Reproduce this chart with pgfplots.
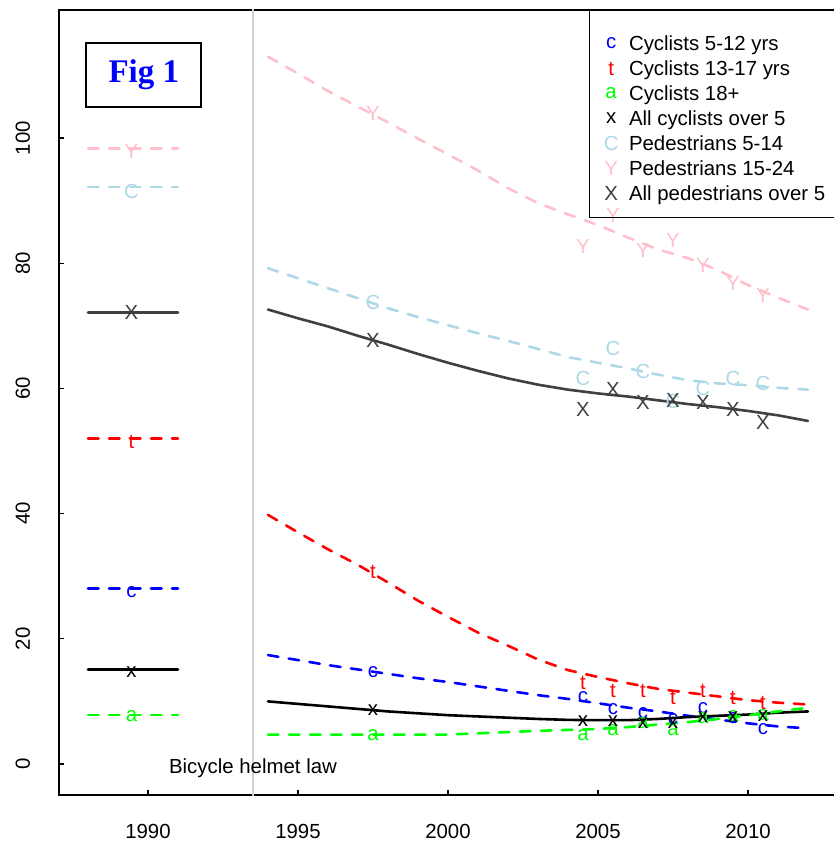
\documentclass[border=0pt]{standalone}
\usepackage{fontspec}
\setmainfont{Liberation Sans}
\newfontfamily\serifb{Liberation Serif}
\usepackage{pgfplots}
\pgfplotsset{compat=1.18}
\definecolor{cblue}{RGB}{0,0,255}
\definecolor{cred}{RGB}{255,0,0}
\definecolor{cgreen}{RGB}{0,255,0}
\definecolor{cpink}{RGB}{255,192,203}
\definecolor{clblue}{RGB}{173,216,230}
\definecolor{cdgray}{RGB}{64,64,64}
\definecolor{vgray}{RGB}{211,211,211}
\newcommand\fs{\fontsize{10.2}{12}\selectfont}
\newcommand\ls{\rule[-3pt]{0pt}{12.5pt}}
\begin{document}
\begin{tikzpicture}
\begin{axis}[
  at={(0,0)}, anchor=south west,
  scale only axis, width=388.8pt, height=392.5pt,
  xmin=1987.04, xmax=2012.96, ymin=-4.95, ymax=120.45,
  xtick={1990,1995,2000,2005,2010},
  ytick={0,20,40,60,80,100},
  xtick pos=left, ytick pos=left,
  tick align=inside, major tick length=2.5pt,
  tick style={black, line width=0.6pt},
  axis line style={line width=0.75pt},
  /pgf/number format/1000 sep={},
  /pgf/number format/assume math mode=true,
  tick label style={font=\fs},
  xticklabel style={anchor=base, yshift=-21.8pt},
  yticklabel style={xshift=-14.6pt, rotate=90, anchor=base},
  text mark as node=true,
  text mark style={font=\fs, inner sep=0pt, anchor=center},
  dl/.style={line width=1.3pt, dash pattern=on 5.25pt off 5.25pt, line cap=round, line join=round, forget plot},
  sl/.style={line width=1.3pt, line cap=round, line join=round, forget plot},
  mk/.style={only marks, mark=text, text mark={#1}, forget plot},
  legend cell align=left,
  legend style={at={(rel axis cs:1,1)}, anchor=north east, draw=black, fill=none, line width=0.6pt,
    inner xsep=5.5pt, inner ysep=4.75pt, column sep=4.65pt, row sep=0pt,
    nodes={inner sep=0pt, text depth=}, font=\fs},
  legend image code/.code={\path (-4.85pt,0pt) (4pt,0pt); \draw[#1] plot coordinates {(0pt,0pt)};},
  ]
% helmet law
\addplot[vgray, line width=0.6pt, forget plot] coordinates {(1993.5,-10) (1993.5,130)};
% pre-law levels
\addplot[cpink, dl] coordinates {(1988,98.3) (1991,98.3)};
\addplot[clblue, dl] coordinates {(1988,92.2) (1991,92.2)};
\addplot[cdgray, sl] coordinates {(1988,72.15) (1991,72.15)};
\addplot[cred, dl] coordinates {(1988,52.0) (1991,52.0)};
\addplot[cblue, dl] coordinates {(1988,28.05) (1991,28.05)};
\addplot[black, sl] coordinates {(1988,15.1) (1991,15.1)};
\addplot[cgreen, dl] coordinates {(1988,7.83) (1991,7.83)};
% post-law trends
\addplot[cpink, dl] coordinates {(1994,113.0) (1995,110.3) (1996,107.5) (1997,105.0) (1998,102.5) (1999,99.9) (2000,97.4) (2001,94.8) (2002,92.0) (2003,89.6) (2004,87.8) (2005,86.1) (2006,84.1) (2007,82.2) (2008,80.8) (2009,78.9) (2010,76.5) (2011,74.5) (2012,72.6)};
\addplot[clblue, dl] coordinates {(1994,79.2) (1995,77.6) (1996,76.0) (1997,74.4) (1998,72.8) (1999,71.4) (2000,70.1) (2001,68.8) (2002,67.6) (2003,66.3) (2004,65.0) (2005,64.1) (2006,63.2) (2007,62.2) (2008,61.3) (2009,60.8) (2010,60.5) (2011,60.1) (2012,59.8)};
\addplot[cdgray, sl] coordinates {(1994,72.6) (1995,71.2) (1996,69.9) (1997,68.4) (1998,67.0) (1999,65.5) (2000,64.1) (2001,62.8) (2002,61.6) (2003,60.6) (2004,59.8) (2005,59.2) (2006,58.7) (2007,58.1) (2008,57.5) (2009,57.0) (2010,56.4) (2011,55.7) (2012,54.8)};
\addplot[cred, dl] coordinates {(1994,39.8) (1995,37.0) (1996,34.3) (1997,31.8) (1998,29.0) (1999,26.1) (2000,23.5) (2001,21.0) (2002,18.9) (2003,16.7) (2004,15.0) (2005,13.9) (2006,12.9) (2007,12.0) (2008,11.4) (2009,10.8) (2010,10.2) (2011,9.8) (2012,9.5)};
\addplot[cblue, dl] coordinates {(1994,17.4) (1995,16.6) (1996,15.8) (1997,15.1) (1998,14.4) (1999,13.7) (2000,13.1) (2001,12.4) (2002,11.7) (2003,11.0) (2004,10.4) (2005,9.7) (2006,9.0) (2007,8.4) (2008,7.7) (2009,7.1) (2010,6.5) (2011,6.0) (2012,5.7)};
\addplot[black, sl] coordinates {(1994,10.0) (1995,9.6) (1996,9.2) (1997,8.8) (1998,8.4) (1999,8.1) (2000,7.8) (2001,7.6) (2002,7.4) (2003,7.2) (2004,7.05) (2005,7.0) (2006,7.0) (2007,7.2) (2008,7.5) (2009,7.7) (2010,7.9) (2011,8.2) (2012,8.4)};
\addplot[cgreen, dl] coordinates {(1994,4.7) (1995,4.7) (1996,4.7) (1997,4.7) (1998,4.7) (1999,4.7) (2000,4.7) (2001,4.9) (2002,5.1) (2003,5.3) (2004,5.45) (2005,5.6) (2006,5.9) (2007,6.3) (2008,6.7) (2009,7.2) (2010,7.8) (2011,8.4) (2012,9.0)};
% observed values
\addplot[cpink, mk=Y] coordinates {(1989.45,97.8) (1997.5,103.9) (2004.5,82.6) (2005.5,87.7) (2006.5,82.1) (2007.5,83.7) (2008.5,79.7) (2009.5,76.8) (2010.5,74.9)};
\addplot[clblue, mk=C] coordinates {(1989.45,91.5) (1997.5,73.7) (2004.5,61.6) (2005.5,66.4) (2006.5,62.7) (2007.5,57.9) (2008.5,60.0) (2009.5,61.6) (2010.5,60.8)};
\addplot[cdgray, mk=X] coordinates {(1989.45,72.2) (1997.5,67.7) (2004.5,56.7) (2005.5,59.9) (2006.5,57.7) (2007.5,58.0) (2008.5,57.7) (2009.5,56.7) (2010.5,54.6)};
\addplot[cred, mk=t] coordinates {(1989.45,51.5) (1997.5,30.7) (2004.5,13.0) (2005.5,11.6) (2006.5,11.6) (2007.5,10.5) (2008.5,11.6) (2009.5,10.5) (2010.5,9.7)};
\addplot[cblue, mk=c] coordinates {(1989.45,27.5) (1997.5,14.7) (2004.5,10.7) (2005.5,8.7) (2006.5,8.1) (2007.5,7.2) (2008.5,8.9) (2009.5,7.4) (2010.5,5.5)};
\addplot[cgreen, mk=a] coordinates {(1989.45,7.6) (1997.5,4.6) (2004.5,4.6) (2005.5,5.4) (2006.5,6.5) (2007.5,5.4) (2008.5,7.4) (2009.5,7.6) (2010.5,7.8)};
\addplot[black, mk=x] coordinates {(1989.45,14.7) (1997.5,8.6) (2004.5,6.8) (2005.5,6.8) (2006.5,6.6) (2007.5,6.6) (2008.5,7.5) (2009.5,7.5) (2010.5,7.7)};
% annotations
\node[font=\fs, anchor=base] at (axis cs:1993.5,-1.49) {Bicycle helmet law};
\node[draw=black, line width=1pt, minimum width=57.5pt, minimum height=31.75pt, inner sep=0pt,
  font=\serifb\bfseries\fontsize{16.5}{18}\selectfont, text=cblue] at (axis cs:1989.86,110.06) {Fig 1};
% legend
\addlegendimage{empty legend}\addlegendentry{\rule{0pt}{5.5pt}}
\addlegendimage{cblue, only marks, mark=text, text mark={c}}\addlegendentry{\ls Cyclists 5-12 yrs}
\addlegendimage{cred, only marks, mark=text, text mark={t}}\addlegendentry{\ls Cyclists 13-17 yrs}
\addlegendimage{cgreen, only marks, mark=text, text mark={a}}\addlegendentry{\ls Cyclists 18+}
\addlegendimage{black, only marks, mark=text, text mark={x}}\addlegendentry{\ls All cyclists over 5}
\addlegendimage{clblue, only marks, mark=text, text mark={C}}\addlegendentry{\ls Pedestrians 5-14}
\addlegendimage{cpink, only marks, mark=text, text mark={Y}}\addlegendentry{\ls Pedestrians 15-24}
\addlegendimage{cdgray, only marks, mark=text, text mark={X}}\addlegendentry{\ls All pedestrians over 5}
\addlegendimage{empty legend}\addlegendentry{\rule{0pt}{0pt}}
\end{axis}
\pgfresetboundingbox
\path[use as bounding box] (-29.6pt,-23pt) rectangle (387.4pt,397.5pt);
\end{tikzpicture}
\end{document}
